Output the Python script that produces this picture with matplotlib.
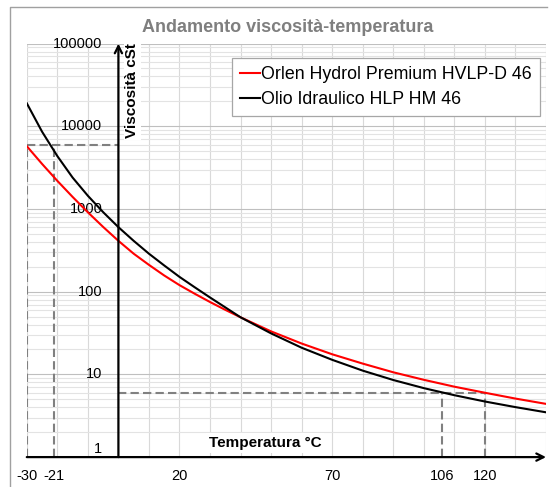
import matplotlib
matplotlib.use("Agg")
import matplotlib.pyplot as plt
from matplotlib.lines import Line2D
from matplotlib.ticker import LogLocator, NullFormatter
import numpy as np

plt.rcParams['font.family'] = ['Liberation Sans', 'DejaVu Sans']

# temperatures (°C) where the curves were read off the chart
# (denser where the curves bend the most)
temps = [-30, -25, -20, -15, -10, -5, 0, 5, 10, 15, 20, 25, 30, 35, 40,
         50, 60, 70, 80, 90, 100, 110, 120, 130, 140]

# viscosity in cSt
visc_hvlp = [5750, 3510, 2190, 1400, 912, 607, 412, 288, 211, 157, 120, 94.4,
             75.0, 60.3, 49.0, 33.1, 23.6, 17.5, 13.5, 10.6, 8.6, 7.1, 6.0, 5.1, 4.4]
visc_hm = [19000, 8610, 4365, 2400, 1445, 916, 603, 412, 288, 207.5, 151, 113,
           85.1, 64.6, 49.0, 31.3, 21.0, 15.0, 11.1, 8.55, 6.82, 5.6, 4.7, 4.02, 3.48]

series_names = ["Orlen Hydrol Premium HVLP-D 46", "Olio Idraulico HLP HM 46"]

# reference (dashed) lines
cold_temps = [-30, -21]
cold_visc = 6000
hot_temps = [106, 120]
hot_visc = 6

x_labels = [-30, -21, 20, 70, 106, 120]
y_labels = [1, 10, 100, 1000, 10000, 100000]

fig = plt.figure(figsize=(5.59, 4.87), dpi=100)
ax = fig.add_axes([0.0479, 0.0614, 0.9289, 0.8491])

ax.set_xlim(-30, 140)
ax.set_yscale('log')
ax.set_ylim(1, 100000)

# grid like the excel sheet
ax.set_xticks(np.arange(-30, 141, 10))
ax.yaxis.set_major_locator(LogLocator(base=10))
ax.yaxis.set_minor_locator(LogLocator(base=10, subs=np.arange(2, 10)))
ax.yaxis.set_minor_formatter(NullFormatter())
ax.grid(True, which='major', axis='x', color='#d9d9d9', lw=0.8)
ax.grid(True, which='major', axis='y', color='#bfbfbf', lw=0.8)
ax.grid(True, which='minor', axis='y', color='#e3e3e3', lw=0.8)
ax.tick_params(which='both', length=0, labelbottom=False, labelleft=False)
for s in ax.spines.values():
    s.set_visible(False)

# dashed guide lines
dash = dict(color='#808080', lw=1.5, ls=(0, (4, 2)), zorder=2)
ax.plot([cold_temps[0], 0], [cold_visc, cold_visc], **dash)
for t in cold_temps:
    ax.plot([t, t], [1, cold_visc], **dash)
ax.plot([0, hot_temps[-1]], [hot_visc, hot_visc], **dash)
for t in hot_temps:
    ax.plot([t, t], [1, hot_visc], **dash)

# the two curves
ax.plot(temps, visc_hvlp, color='#ff0000', lw=1.5, label=series_names[0], zorder=4)
ax.plot(temps, visc_hm, color='black', lw=1.5, label=series_names[1], zorder=4)

# axes drawn as arrows, y axis crossing at 0 °C
arrow = dict(arrowstyle='->', lw=1.6, color='black', shrinkA=0, shrinkB=0,
             mutation_scale=13)
ax.annotate('', xy=(0, 100000), xytext=(0, 1), arrowprops=arrow,
            annotation_clip=False, zorder=5)
ax.annotate('', xy=(140, 1), xytext=(-30, 1), arrowprops=arrow,
            annotation_clip=False, zorder=5)

# tick labels
for v in y_labels:
    off = 8 if v == 1 else 0
    ax.annotate(str(v), xy=(0, v), xytext=(-16, off), textcoords='offset pixels',
                ha='right', va='center', fontsize=10.5, annotation_clip=False)
for t in x_labels:
    ax.annotate(str(t), xy=(t, 1), xytext=(0, -19), textcoords='offset pixels',
                ha='center', va='center', fontsize=10.5, annotation_clip=False)

# axis titles
ax.text(4.5, 100000, "Viscosità cSt", rotation=90, ha='center', va='top',
        fontsize=11, fontweight='bold', zorder=6,
        bbox=dict(facecolor='white', edgecolor='none', pad=1))
ax.annotate("Temperatura °C", xy=(48, 1), xytext=(0, 14), textcoords='offset pixels',
            ha='center', va='center', fontsize=11, fontweight='bold', zorder=6,
            bbox=dict(facecolor='white', edgecolor='none', pad=2))

fig.text(288 / 559, 1 - 27 / 487, "Andamento viscosità-temperatura", ha='center',
         va='center', fontsize=13, fontweight='bold', color='#7f7f7f')

leg = ax.legend(loc='upper right', bbox_to_anchor=(540 / 559, 1 - 58 / 487),
                bbox_transform=fig.transFigure, borderaxespad=0, fontsize=12.8,
                handlelength=1.1, handletextpad=0.1, fancybox=False,
                framealpha=1, edgecolor='#a6a6a6', borderpad=0.45,
                labelspacing=0.45)
leg.get_frame().set_linewidth(0.9)
leg.set_zorder(7)

# outer chart frame (top and left visible in the screenshot)
fig.add_artist(Line2D([9.5 / 559, 9.5 / 559, 547 / 559], [0, 1 - 7 / 487, 1 - 7 / 487],
                      color='#a0a0a0', lw=1, transform=fig.transFigure))

fig.savefig("out.png", dpi=100)
